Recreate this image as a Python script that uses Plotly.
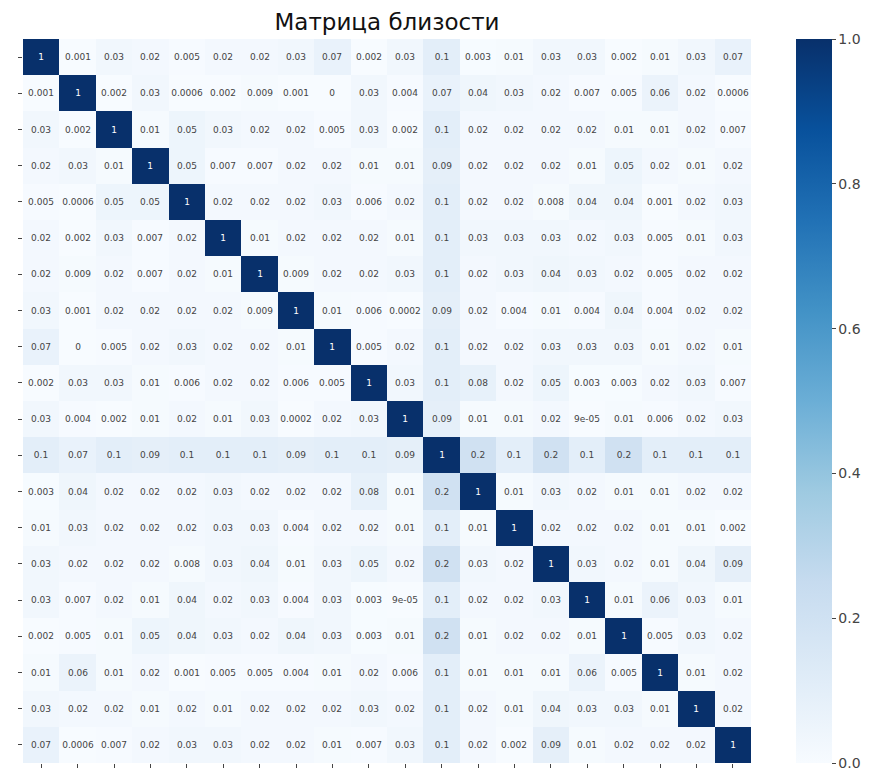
import plotly.graph_objects as go

title = "Матрица близости"

row00 = [1, 0.001, 0.03, 0.02, 0.005, 0.02, 0.02, 0.03, 0.07, 0.002, 0.03, 0.1, 0.003, 0.01, 0.03, 0.03, 0.002, 0.01, 0.03, 0.07]
row01 = [0.001, 1, 0.002, 0.03, 0.0006, 0.002, 0.009, 0.001, 0, 0.03, 0.004, 0.07, 0.04, 0.03, 0.02, 0.007, 0.005, 0.06, 0.02, 0.0006]
row02 = [0.03, 0.002, 1, 0.01, 0.05, 0.03, 0.02, 0.02, 0.005, 0.03, 0.002, 0.1, 0.02, 0.02, 0.02, 0.02, 0.01, 0.01, 0.02, 0.007]
row03 = [0.02, 0.03, 0.01, 1, 0.05, 0.007, 0.007, 0.02, 0.02, 0.01, 0.01, 0.09, 0.02, 0.02, 0.02, 0.01, 0.05, 0.02, 0.01, 0.02]
row04 = [0.005, 0.0006, 0.05, 0.05, 1, 0.02, 0.02, 0.02, 0.03, 0.006, 0.02, 0.1, 0.02, 0.02, 0.008, 0.04, 0.04, 0.001, 0.02, 0.03]
row05 = [0.02, 0.002, 0.03, 0.007, 0.02, 1, 0.01, 0.02, 0.02, 0.02, 0.01, 0.1, 0.03, 0.03, 0.03, 0.02, 0.03, 0.005, 0.01, 0.03]
row06 = [0.02, 0.009, 0.02, 0.007, 0.02, 0.01, 1, 0.009, 0.02, 0.02, 0.03, 0.1, 0.02, 0.03, 0.04, 0.03, 0.02, 0.005, 0.02, 0.02]
row07 = [0.03, 0.001, 0.02, 0.02, 0.02, 0.02, 0.009, 1, 0.01, 0.006, 0.0002, 0.09, 0.02, 0.004, 0.01, 0.004, 0.04, 0.004, 0.02, 0.02]
row08 = [0.07, 0, 0.005, 0.02, 0.03, 0.02, 0.02, 0.01, 1, 0.005, 0.02, 0.1, 0.02, 0.02, 0.03, 0.03, 0.03, 0.01, 0.02, 0.01]
row09 = [0.002, 0.03, 0.03, 0.01, 0.006, 0.02, 0.02, 0.006, 0.005, 1, 0.03, 0.1, 0.08, 0.02, 0.05, 0.003, 0.003, 0.02, 0.03, 0.007]
row10 = [0.03, 0.004, 0.002, 0.01, 0.02, 0.01, 0.03, 0.0002, 0.02, 0.03, 1, 0.09, 0.01, 0.01, 0.02, 9e-05, 0.01, 0.006, 0.02, 0.03]
row11 = [0.1, 0.07, 0.1, 0.09, 0.1, 0.1, 0.1, 0.09, 0.1, 0.1, 0.09, 1, 0.2, 0.1, 0.2, 0.1, 0.2, 0.1, 0.1, 0.1]
row12 = [0.003, 0.04, 0.02, 0.02, 0.02, 0.03, 0.02, 0.02, 0.02, 0.08, 0.01, 0.2, 1, 0.01, 0.03, 0.02, 0.01, 0.01, 0.02, 0.02]
row13 = [0.01, 0.03, 0.02, 0.02, 0.02, 0.03, 0.03, 0.004, 0.02, 0.02, 0.01, 0.1, 0.01, 1, 0.02, 0.02, 0.02, 0.01, 0.01, 0.002]
row14 = [0.03, 0.02, 0.02, 0.02, 0.008, 0.03, 0.04, 0.01, 0.03, 0.05, 0.02, 0.2, 0.03, 0.02, 1, 0.03, 0.02, 0.01, 0.04, 0.09]
row15 = [0.03, 0.007, 0.02, 0.01, 0.04, 0.02, 0.03, 0.004, 0.03, 0.003, 9e-05, 0.1, 0.02, 0.02, 0.03, 1, 0.01, 0.06, 0.03, 0.01]
row16 = [0.002, 0.005, 0.01, 0.05, 0.04, 0.03, 0.02, 0.04, 0.03, 0.003, 0.01, 0.2, 0.01, 0.02, 0.02, 0.01, 1, 0.005, 0.03, 0.02]
row17 = [0.01, 0.06, 0.01, 0.02, 0.001, 0.005, 0.005, 0.004, 0.01, 0.02, 0.006, 0.1, 0.01, 0.01, 0.01, 0.06, 0.005, 1, 0.01, 0.02]
row18 = [0.03, 0.02, 0.02, 0.01, 0.02, 0.01, 0.02, 0.02, 0.02, 0.03, 0.02, 0.1, 0.02, 0.01, 0.04, 0.03, 0.03, 0.01, 1, 0.02]
row19 = [0.07, 0.0006, 0.007, 0.02, 0.03, 0.03, 0.02, 0.02, 0.01, 0.007, 0.03, 0.1, 0.02, 0.002, 0.09, 0.01, 0.02, 0.02, 0.02, 1]

z = [row00, row01, row02, row03, row04, row05, row06, row07, row08, row09,
     row10, row11, row12, row13, row14, row15, row16, row17, row18, row19]
labels = list(range(20))
text = [[format(v, ".1g") for v in r] for r in z]

blues = ["#f7fbff", "#deebf7", "#c6dbef", "#9ecae1", "#6baed6",
         "#4292c6", "#2171b5", "#08519c", "#08306b"]
colorscale = [[i / (len(blues) - 1), c] for i, c in enumerate(blues)]

W, H = 872, 772
L, R, T, B = 23, 121, 39, 9
pw = W - L - R

fig = go.Figure(go.Heatmap(
    z=z, x=labels, y=labels, text=text, texttemplate="%{text}",
    textfont=dict(size=9, family="DejaVu Sans"),
    colorscale=colorscale, zmin=0, zmax=1, xgap=0, ygap=0,
    colorbar=dict(
        x=(796 - L) / pw, xanchor="left", xpad=0,
        y=0.5, yanchor="middle", len=1, lenmode="fraction", ypad=0,
        thickness=36, outlinewidth=0,
        tickvals=[0, 0.2, 0.4, 0.6, 0.8, 1.0], tickformat=".1f",
        ticks="outside", ticklen=4, tickcolor="#444",
        tickfont=dict(size=14, color="#444", family="DejaVu Sans"),
    ),
))

fig.update_layout(
    width=W, height=H,
    margin=dict(l=L, r=R, t=T, b=B, autoexpand=False),
    plot_bgcolor="white", paper_bgcolor="white",
    font=dict(family="DejaVu Sans"),
    title=dict(text=title, x=0.5, xref="paper", y=1 - 22 / H, yref="container",
               xanchor="center", yanchor="middle",
               font=dict(size=23, color="#111", family="DejaVu Sans")),
)
fig.update_xaxes(showticklabels=False, ticks="outside", ticklen=4, tickcolor="#444",
                 showgrid=False, zeroline=False, tickvals=labels, range=[-0.5, 19.5])
fig.update_yaxes(showticklabels=False, ticks="outside", ticklen=4, tickcolor="#444",
                 showgrid=False, zeroline=False, tickvals=labels, range=[19.5, -0.5])

fig.write_html("out.html")
